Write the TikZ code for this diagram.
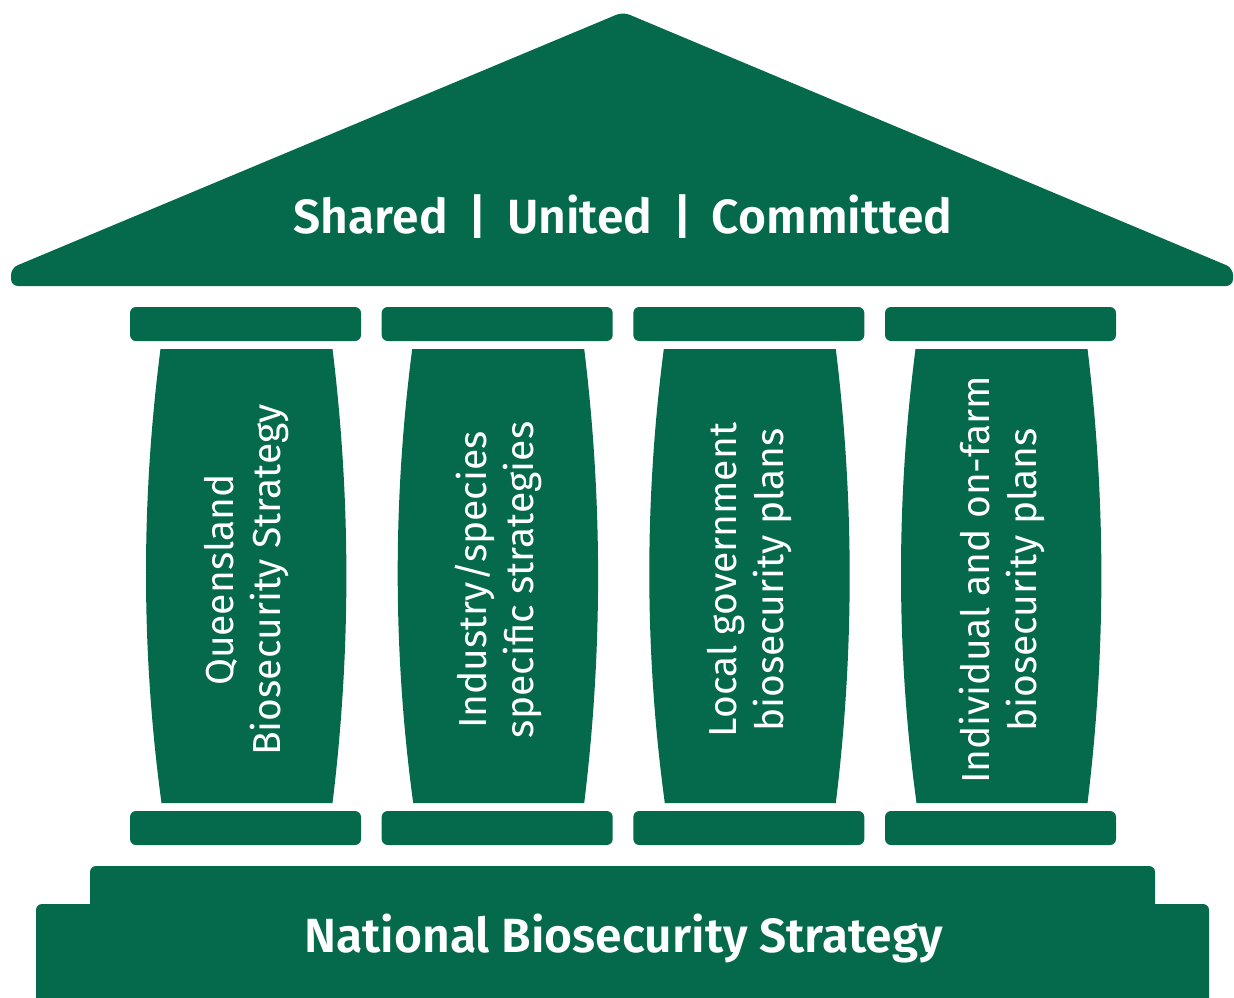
\documentclass[tikz,border=0pt]{standalone}
\usepackage{fontspec}
\setmainfont{Fira Sans}
\IfFontExistsTF{Fira Sans SemiBold}
  {\newfontfamily\headfont{Fira Sans SemiBold}}
  {\newcommand\headfont{\bfseries}}
\definecolor{qgreen}{HTML}{046A4B}

\tikzset{
  part/.style={fill=qgreen, draw=none},
  capbox/.style={part, rounded corners=6pt},
  headtext/.style={text=white, inner sep=0pt, font=\headfont\fontsize{48}{56}\selectfont},
  pillartext/.style={text=white, inner sep=0pt, align=center, rotate=90,
    font=\fontsize{39}{47}\selectfont},
}
\newcommand\mottobar{\hspace{20.5pt}|\hspace{20.5pt}}

\begin{document}
\begin{tikzpicture}[x=1pt, y=-1pt]
\useasboundingbox (0,0) rectangle (1234,998);

% roof
\fill[part, rounded corners=7pt]
  (623,12) -- (1233,268) -- (1233,286) -- (11,286) -- (11,268) -- cycle;
\node[headtext, anchor=base] (motto) at (623,233)
  {Shared\mottobar United\mottobar Committed};

% four pillars: capital, barrel-shaped shaft, plinth and label
\foreach \c/\n/\lbl in {
    245.5/1/{Queensland\\Biosecurity Strategy},
    497.2/2/{Industry/species\\specific strategies},
    748.8/3/{Local government\\biosecurity plans},
    1000.5/4/{Individual and on-farm\\biosecurity plans}} {
  \fill[capbox] (\c-115.5,307) rectangle (\c+115.5,341);
  \fill[part]
    (\c-85,349) .. controls (\c-104.5,500) and (\c-104.5,652) .. (\c-84,803)
    -- (\c+87,803) .. controls (\c+105.5,652) and (\c+105.5,500) .. (\c+87,349) -- cycle;
  \fill[capbox] (\c-115.5,811) rectangle (\c+115.5,845);
  \node[pillartext] (pillar\n) at (\c+1,580) {\lbl};
}

% stepped base, running off the bottom edge
\begin{scope}
  \clip (0,0) rectangle (1234,998);
  \fill[capbox] (90,866) rectangle (1155,1020);
  \fill[capbox] (36,904) rectangle (1209,1020);
\end{scope}
\node[headtext] (national) at (623.5,938) {National Biosecurity Strategy};
\end{tikzpicture}
\end{document}
